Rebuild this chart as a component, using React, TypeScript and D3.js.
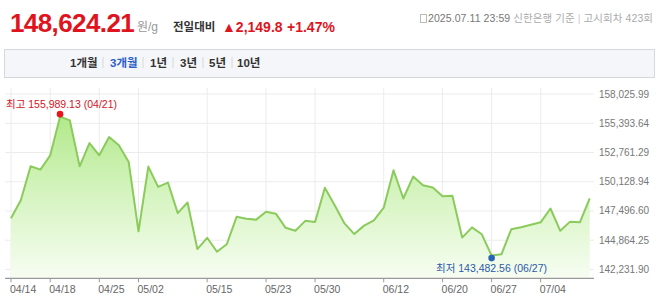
import React from 'react';
import * as d3 from 'd3';

const dates = [
  '04/14','04/15','04/16','04/17','04/18','04/21','04/22','04/23','04/24','04/25',
  '04/28','04/29','04/30','05/02','05/07','05/08','05/09','05/12','05/13','05/14',
  '05/15','05/16','05/19','05/20','05/21','05/22','05/23','05/26','05/27','05/28',
  '05/29','05/30','06/02','06/04','06/05','06/09','06/10','06/11','06/12','06/13',
  '06/16','06/17','06/18','06/19','06/20','06/23','06/24','06/25','06/26','06/27',
  '06/30','07/01','07/02','07/03','07/04','07/07','07/08','07/09','07/10','07/11'
];
const prices = [
  146853, 148469, 151520, 151224, 152507, 155989.13, 155648, 151520, 153611, 152507,
  154150, 153405, 151906, 145669, 151493, 149662, 150057, 147302, 148263, 144072,
  145086, 143829, 144502, 146970, 146791, 146719, 147437, 147257, 145983, 145714,
  146611, 146513, 149591, 148020, 146378, 145418, 146181, 146647, 147796, 151161,
  148621, 150596, 149815, 149609, 148828, 148873, 145104, 146028, 145400, 143482.56,
  143596, 145849, 146028, 146252, 146477, 147724, 145714, 146540, 146474.41, 148624.21
];
const yTicks = [142231.90, 144864.25, 147496.60, 150128.94, 152761.29, 155393.64, 158025.99];
const xTickLabels = ['04/14','04/18','04/25','05/02','05/15','05/23','05/30','06/12','06/20','06/27','07/04'];
const tabs = ['1개월','3개월','1년','3년','5년','10년'];
const tabX = [70, 110, 150, 180, 209, 237];
const sepX = [103, 143, 173, 203, 232];

const KR = '"Liberation Sans", Arial, "Noto Sans CJK KR", sans-serif';

export default function App() {
  const W = 658, H = 308;
  const x = d3.scalePoint<string>().domain(dates).range([11, 589.7]);
  const y = d3.scaleLinear().domain([yTicks[0], yTicks[yTicks.length - 1]]).range([269.5, 94]);
  const baseY = 278.3;
  const pts = dates.map((d, i) => ({ d, v: prices[i] }));
  const line = d3.line<any>().x(p => x(p.d)!).y(p => y(p.v));
  const area = d3.area<any>().x(p => x(p.d)!).y0(baseY).y1(p => y(p.v));
  const maxI = d3.maxIndex(prices);
  const minI = d3.minIndex(prices);
  const fmt = d3.format(',.2f');
  const last = prices[prices.length - 1];
  const prev = prices[prices.length - 2];
  const diff = last - prev;
  const pct = diff / prev * 100;

  return (
    <svg width={W} height={H} style={{ position: 'absolute', left: 0, top: 0, background: '#fff' }}>
      <defs>
        <linearGradient id="g" gradientUnits="userSpaceOnUse" x1="0" y1="94" x2="0" y2={baseY}>
          <stop offset="0" stopColor="#a8e67c" />
          <stop offset="0.5" stopColor="#d2f3bb" />
          <stop offset="1" stopColor="#f7fdf2" />
        </linearGradient>
      </defs>
      {/* header */}
      <text x={10} y={32} fontFamily={KR} fontWeight="bold" fontSize={26} letterSpacing={-0.6} fill="#e0141e">
        {fmt(last)}
      </text>
      <text x={137} y={31} fontFamily={KR} fontSize={12} fill="#999">원/g</text>
      <text x={173} y={31} fontFamily={KR} fontSize={11.5} fontWeight="bold" fill="#333">전일대비</text>
      <text x={222} y={32} fontFamily={KR} fontSize={14} fontWeight="bold" fill="#e0141e">
        {'▲' + d3.format(',.1f')(diff)}
      </text>
      <text x={287} y={32} fontFamily={KR} fontSize={14} fontWeight="bold" fill="#e0141e">
        {'+' + pct.toFixed(2) + '%'}
      </text>
      <rect x={420.5} y={14.5} width={6} height={8} fill="none" stroke="#bbb" strokeWidth={1} />
      <text x={428} y={22} fontFamily={KR} fontSize={10.5} textLength={225} lengthAdjust="spacing">
        <tspan fill="#777">2025.07.11 23:59</tspan>
        <tspan fill="#aaa">{' 신한은행 기준 '}</tspan>
        <tspan fill="#ccc">|</tspan>
        <tspan fill="#aaa">{' 고시회차 423회'}</tspan>
      </text>

      {/* tab bar */}
      <rect x={4.5} y={49.5} width={650} height={28} fill="#f5f6f9" stroke="#d6d8dd" />
      {tabs.map((t, i) => (
        <text key={t} x={tabX[i]} y={66.5} fontFamily={KR} fontSize={11.5} fontWeight="bold"
          fill={i === 1 ? '#2c5ec9' : '#333'}>{t}</text>
      ))}
      {sepX.map((sx, i) => (
        <line key={i} x1={sx} x2={sx} y1={57} y2={68} stroke="#d8d8d8" />
      ))}

      {/* grid */}
      {yTicks.map((t, i) => (
        <line key={'h' + i} x1={5} x2={594} y1={y(t)} y2={y(t)} stroke="#ececec" />
      ))}
      {xTickLabels.map((d) => (
        <line key={'v' + d} x1={x(d)} x2={x(d)} y1={88} y2={baseY} stroke="#ececec" />
      ))}

      {/* series */}
      <path d={area(pts)!} fill="url(#g)" />
      <path d={line(pts)!} fill="none" stroke="#8acb5c" strokeWidth={2} strokeLinejoin="round" />

      {/* axis */}
      <line x1={5} x2={594} y1={baseY} y2={baseY} stroke="#999" strokeWidth={1.2} />
      {xTickLabels.map((d) => (
        <g key={'t' + d}>
          <line x1={x(d)} x2={x(d)} y1={baseY} y2={baseY + 4} stroke="#999" />
          <text x={x(d)! - 1} y={292.5} fontFamily={KR} fontSize={10.5} fill="#666">{d}</text>
        </g>
      ))}
      {yTicks.map((t, i) => (
        <text key={'y' + i} x={599} y={y(t)} dy="0.35em" fontFamily={KR} fontSize={10} fill="#777">{fmt(t)}</text>
      ))}

      {/* annotations */}
      <circle cx={x(dates[maxI])} cy={y(prices[maxI]) - 2.5} r={3.3} fill="#e8141e" />
      <text x={6} y={108} fontFamily={KR} fontSize={10.5} fill="#d4141e">
        {'최고 ' + fmt(prices[maxI]) + ' (' + dates[maxI] + ')'}
      </text>
      <circle cx={x(dates[minI])} cy={y(prices[minI]) + 2.5} r={3.3} fill="#2a62b8" />
      <text x={436} y={272} fontFamily={KR} fontSize={10.5} fill="#2a5aa8">
        {'최저 ' + fmt(prices[minI]) + ' (' + dates[minI] + ')'}
      </text>
    </svg>
  );
}
